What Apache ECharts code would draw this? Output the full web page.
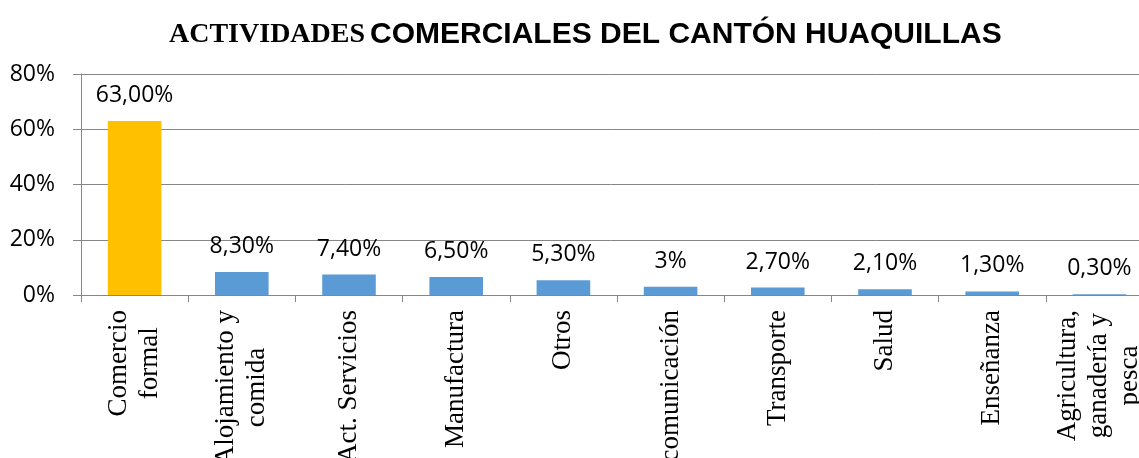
<!DOCTYPE html>
<html>
<head>
<meta charset="utf-8">
<script src="https://cdn.jsdelivr.net/npm/echarts@6/dist/echarts.min.js"></script>
<style>
  html, body { margin: 0; padding: 0; background: #fff; }
  #chart { width: 1139px; height: 458px; }
</style>
</head>
<body>
<div id="chart"></div>
<script>
// datos de la grafica
const categories = [
  "Comercio\nformal",
  "Alojamiento y\ncomida",
  "Act. Servicios",
  "Manufactura",
  "Otros",
  "Telecomunicación",
  "Transporte",
  "Salud",
  "Enseñanza",
  "Agricultura,\nganadería y\npesca"
];
const values = [63, 8.3, 7.4, 6.5, 5.3, 3, 2.7, 2.1, 1.3, 0.3];
const valueLabels = ["63,00%", "8,30%", "7,40%", "6,50%", "5,30%", "3%", "2,70%", "2,10%", "1,30%", "0,30%"];
const yTicks = [0, 20, 40, 60, 80];

const chart = echarts.init(document.getElementById("chart"));
chart.setOption({
  backgroundColor: "#fff",
  animation: false,
  title: {
    left: 164,
    top: 13,
    text: "{a|ACTIVIDADES} {b|COMERCIALES DEL CANTÓN HUAQUILLAS}",
    textStyle: {
      rich: {
        a: { fontFamily: "Liberation Serif", fontWeight: "bold", fontSize: 28, lineHeight: 34, color: "#000" },
        b: { fontFamily: "Liberation Sans", fontWeight: "bold", fontSize: 30, lineHeight: 34, color: "#000" }
      }
    }
  },
  grid: {
    left: 81,
    right: -14,
    top: 74,
    bottom: 163,
    outerBoundsMode: "none"
  },
  xAxis: {
    type: "category",
    data: categories,
    axisLine: { lineStyle: { color: "#868686", width: 1 } },
    axisTick: { show: true, length: 7, lineStyle: { color: "#868686" } },
    axisLabel: {
      interval: 0,
      rotate: 90,
      margin: 15,
      color: "#000",
      fontFamily: "Liberation Serif",
      fontSize: 27,
      lineHeight: 31,
      formatter: function (v) {
        return v.split("\n").map(function (l) { return "{c|" + l + "}"; }).join("\n");
      },
      rich: {
        c: { align: "center", fontFamily: "Liberation Serif", fontSize: 27, lineHeight: 31, color: "#000" }
      }
    }
  },
  yAxis: {
    type: "value",
    min: yTicks[0],
    max: yTicks[yTicks.length - 1],
    interval: 20,
    axisLine: { show: true, lineStyle: { color: "#868686" } },
    axisTick: { show: true, length: 8, lineStyle: { color: "#868686" } },
    splitLine: { lineStyle: { color: "#868686", width: 1 } },
    axisLabel: {
      margin: 26,
      color: "#000",
      fontFamily: "Open Sans",
      fontSize: 23,
      formatter: "{value}%"
    }
  },
  series: [
    {
      type: "bar",
      data: values,
      barWidth: "50%",
      itemStyle: {
        color: function (p) {
          return p.dataIndex === 0 ? "#FFC000" : "#5B9BD5";
        }
      },
      label: {
        show: true,
        position: "top",
        distance: 14,
        color: "#000",
        fontFamily: "Open Sans",
        fontSize: 23,
        formatter: function (p) {
          return valueLabels[p.dataIndex];
        }
      }
    }
  ]
});
</script>
</body>
</html>
